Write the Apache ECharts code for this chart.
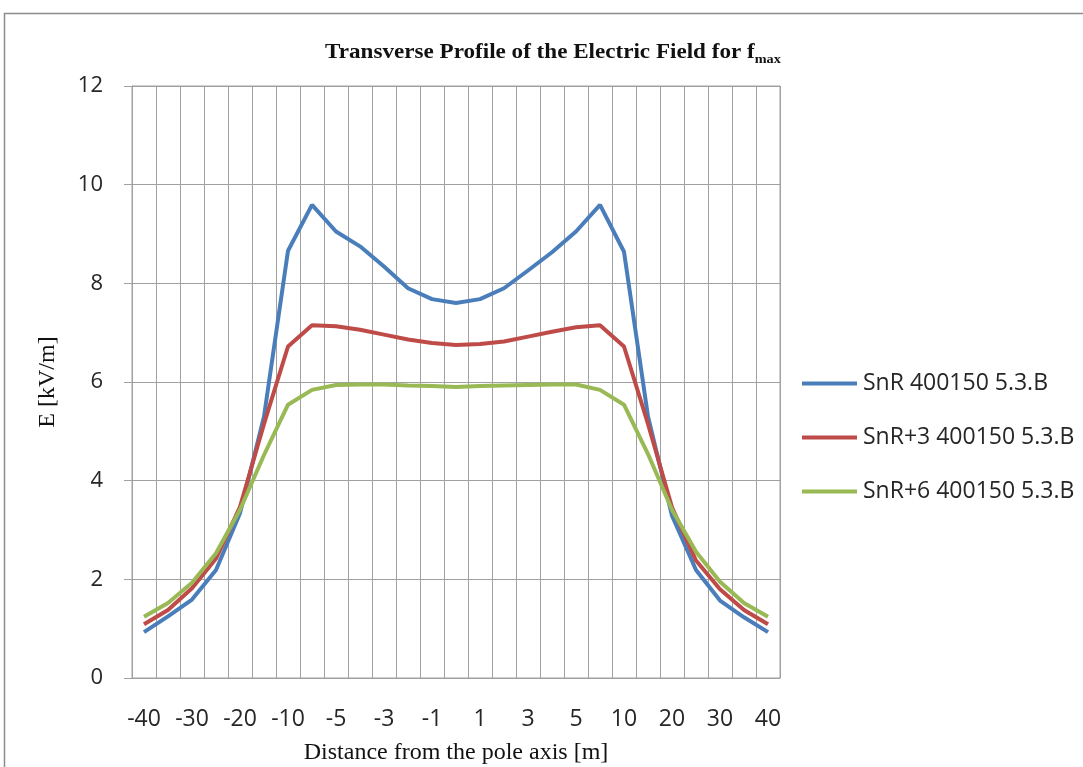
<!DOCTYPE html>
<html>
<head>
<meta charset="utf-8">
<script src="https://cdn.jsdelivr.net/npm/echarts@6/dist/echarts.min.js"></script>
<style>
  html, body { margin: 0; padding: 0; background: #fff; }
  #chart { width: 1083px; height: 767px; }
</style>
</head>
<body>
<div id="chart"></div>
<script>
// Distance from the pole axis [m]
const distances = [-40, -35, -30, -25, -20, -15, -10, -7, -5, -4, -3, -2, -1, 0,
                   1, 2, 3, 4, 5, 7, 10, 15, 20, 25, 30, 35, 40];

// Electric field E [kV/m] for each conductor configuration
const snr = [0.93, 1.25, 1.59, 2.19, 3.34, 5.30, 8.66, 9.59, 9.05, 8.75, 8.34, 7.90, 7.68, 7.60,
             7.68, 7.90, 8.26, 8.63, 9.05, 9.59, 8.64, 5.30, 3.29, 2.19, 1.57, 1.23, 0.93];
const snr3 = [1.09, 1.38, 1.82, 2.42, 3.47, 5.15, 6.72, 7.15, 7.13, 7.06, 6.96, 6.86, 6.79, 6.75,
              6.77, 6.82, 6.92, 7.02, 7.11, 7.15, 6.72, 5.15, 3.46, 2.38, 1.80, 1.38, 1.09];
const snr6 = [1.24, 1.52, 1.93, 2.53, 3.41, 4.52, 5.54, 5.84, 5.94, 5.95, 5.95, 5.93, 5.92, 5.90,
              5.92, 5.93, 5.94, 5.95, 5.95, 5.84, 5.54, 4.54, 3.41, 2.56, 1.95, 1.52, 1.24];

const seriesNames = ['SnR 400150 5.3.B', 'SnR+3 400150 5.3.B', 'SnR+6 400150 5.3.B'];
const seriesColors = ['#4a7ebb', '#be4b48', '#98b954'];
const yTicks = { min: 0, max: 12, interval: 2 };

const gridColor = '#a0a0a0';
const textColor = '#262626';
const sansFont = '"Open Sans", "Liberation Sans", sans-serif';
const serifFont = '"Liberation Serif", "DejaVu Serif", serif';

const chart = echarts.init(document.getElementById('chart'), null, { renderer: 'canvas' });

const values = [snr, snr3, snr6];

chart.setOption({
  backgroundColor: '#ffffff',
  animation: false,
  grid: {
    left: 132,
    right: 303,
    top: 86,
    bottom: 89,
    containLabel: false,
    outerBoundsMode: 'none',
    show: true,
    borderColor: gridColor,
    borderWidth: 1
  },
  legend: {
    orient: 'vertical',
    left: 797,
    top: 367,
    itemWidth: 55,
    itemHeight: 4,
    itemGap: 31,
    icon: 'rect',
    data: seriesNames,
    textStyle: { fontFamily: sansFont, fontSize: 23, color: textColor, padding: [0, 0, 0, 1] }
  },
  xAxis: {
    type: 'category',
    data: distances,
    boundaryGap: true,
    name: 'Distance from the pole axis [m]',
    nameLocation: 'middle',
    nameGap: 63,
    nameTextStyle: { fontFamily: serifFont, fontSize: 24, color: '#111' },
    axisLine: { show: true, lineStyle: { color: gridColor, width: 1 } },
    axisTick: { show: false },
    axisLabel: {
      interval: 1,
      margin: 30,
      fontFamily: sansFont,
      fontSize: 23,
      color: textColor
    },
    splitLine: { show: true, interval: 0, lineStyle: { color: gridColor, width: 1 } }
  },
  yAxis: {
    type: 'value',
    min: yTicks.min,
    max: yTicks.max,
    interval: yTicks.interval,
    name: 'E [kV/m]',
    nameLocation: 'middle',
    nameGap: 72,
    nameRotate: 90,
    nameTextStyle: { fontFamily: serifFont, fontSize: 24, color: '#111' },
    axisLine: { show: true, lineStyle: { color: gridColor, width: 1 } },
    axisTick: { show: true, length: 8, inside: false, lineStyle: { color: gridColor } },
    axisLabel: { margin: 29, fontFamily: sansFont, fontSize: 22, color: textColor },
    splitLine: { show: true, lineStyle: { color: gridColor, width: 1 } }
  },
  series: seriesNames.map((name, i) => ({
    name: name,
    type: 'line',
    data: values[i],
    showSymbol: false,
    symbol: 'none',
    smooth: false,
    color: seriesColors[i],
    lineStyle: { width: 4, color: seriesColors[i] },
    z: 3 + i
  })),
  graphic: [
    {
      type: 'rect',
      shape: { x: 4.5, y: 13.5, width: 1120, height: 820 },
      style: { fill: 'none', stroke: '#8c8c8c', lineWidth: 1.5 },
      silent: true
    },
    {
      // chart title with subscript
      type: 'text',
      x: 553,
      y: 53,
      scaleX: 1.1,
      silent: true,
      style: {
        text: '{main|Transverse Profile of the Electric Field for f}{sub|max}',
        align: 'center',
        verticalAlign: 'middle',
        rich: {
          main: { fontFamily: serifFont, fontSize: 21, fontWeight: 'bold', fill: '#111' },
          sub: { fontFamily: serifFont, fontSize: 13, fontWeight: 'bold', fill: '#111', padding: [14, 0, 0, 0] }
        }
      }
    }
  ]
});
</script>
</body>
</html>
